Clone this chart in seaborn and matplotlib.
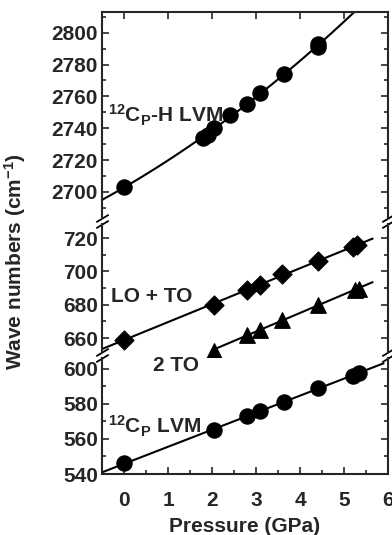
import numpy as np
import matplotlib
matplotlib.use('Agg')
import matplotlib.pyplot as plt
import seaborn as sns
from matplotlib.ticker import MultipleLocator

# 12Cp-H LVM (top panel)
p_ch = [0.0, 1.8, 1.9, 2.05, 2.4, 2.8, 3.1, 3.63, 4.4, 4.42]
w_ch = [2703, 2734, 2736, 2740, 2748, 2755, 2762, 2774, 2791, 2793]
# LO + TO (middle panel)
p_loto = [0.0, 2.04, 2.8, 3.1, 3.6, 4.4, 5.2, 5.3]
w_loto = [659, 680, 689, 692, 698.5, 706, 714.5, 716]
# 2 TO (middle panel)
p_2to = [2.05, 2.8, 3.1, 3.6, 4.4, 5.25, 5.35]
w_2to = [652.5, 662, 665, 671, 680, 689, 689.5]
# 12Cp LVM (bottom panel)
p_c = [0.0, 2.05, 2.8, 3.1, 3.63, 4.4, 5.2, 5.35]
w_c = [546, 565, 573, 576, 581, 589, 596, 597.5]

sns.set_style('ticks')
plt.rcParams['font.family'] = ['Liberation Sans', 'DejaVu Sans']
plt.rcParams['font.weight'] = 'bold'
plt.rcParams['axes.labelweight'] = 'bold'
plt.rcParams['mathtext.default'] = 'regular'
plt.rcParams['font.size'] = 15

fig = plt.figure(figsize=(3.92, 5.35), dpi=100)
W, H = 392, 535
def box(y0, y1):
    return [102 / W, (H - y1) / H, 286 / W, (y1 - y0) / H]

ax_top = fig.add_axes(box(12, 218))
ax_mid = fig.add_axes(box(224, 352))
ax_bot = fig.add_axes(box(358, 474))
axes = [ax_top, ax_mid, ax_bot]

# fit lines
def fit(x, y, deg, x0, x1):
    c = np.polyfit(x, y, deg)
    xs = np.linspace(x0, x1, 100)
    return xs, np.polyval(c, xs)

xs, ys = fit(p_ch, w_ch, 2, -0.5, 6)
sns.lineplot(x=xs, y=ys, ax=ax_top, color='k', lw=1.5)
sns.scatterplot(x=p_ch, y=w_ch, ax=ax_top, marker='o', s=120, color='k',
                edgecolor='k', clip_on=False, zorder=3)

xs, ys = fit(p_loto, w_loto, 1, -0.5, 5.65)
sns.lineplot(x=xs, y=ys, ax=ax_mid, color='k', lw=1.5)
sns.scatterplot(x=p_loto, y=w_loto, ax=ax_mid, marker='D', s=95, color='k',
                edgecolor='k', clip_on=False, zorder=3)
xs, ys = fit(p_2to, w_2to, 1, 2.0, 5.65)
sns.lineplot(x=xs, y=ys, ax=ax_mid, color='k', lw=1.5)
sns.scatterplot(x=p_2to, y=w_2to, ax=ax_mid, marker='^', s=125, color='k',
                edgecolor='k', clip_on=False, zorder=3)

xs, ys = fit(p_c, w_c, 1, -0.5, 5.9)
sns.lineplot(x=xs, y=ys, ax=ax_bot, color='k', lw=1.5)
sns.scatterplot(x=p_c, y=w_c, ax=ax_bot, marker='o', s=120, color='k',
                edgecolor='k', clip_on=False, zorder=3)

ax_top.set_ylim(2683.6, 2813)
ax_mid.set_ylim(651.6, 728.4)
ax_bot.set_ylim(540, 606)
ax_top.set_yticks([2700, 2720, 2740, 2760, 2780, 2800])
ax_mid.set_yticks([660, 680, 700, 720])
ax_bot.set_yticks([540, 560, 580, 600])

for ax in axes:
    ax.set_xlim(-0.5, 6)
    ax.yaxis.set_minor_locator(MultipleLocator(10))
    ax.xaxis.set_major_locator(MultipleLocator(1))
    ax.xaxis.set_minor_locator(MultipleLocator(0.5))
    ax.tick_params(which='both', direction='in', left=True, right=True,
                   top=False, bottom=False, labelbottom=False, width=1.2,
                   labelsize=15)
    ax.tick_params(which='major', length=5, pad=3)
    ax.tick_params(which='minor', length=3)
    for s in ax.spines.values():
        s.set_linewidth(1.5)
    ax.set_xlabel('')
    ax.set_ylabel('')

ax_top.spines['bottom'].set_visible(False)
ax_mid.spines['top'].set_visible(False)
ax_mid.spines['bottom'].set_visible(False)
ax_bot.spines['top'].set_visible(False)
ax_top.tick_params(which='major', top=True)
ax_bot.tick_params(which='both', bottom=True, labelbottom=True)
ax_bot.tick_params(axis='x', which='major', pad=12)

# break marks
d = dict(marker=[(-1, -0.6), (1, 0.6)], markersize=9, linestyle='none',
         color='k', mec='k', mew=1.3, clip_on=False)
for ax, ypos in [(ax_top, 0), (ax_mid, 1), (ax_mid, 0), (ax_bot, 1)]:
    ax.plot([0, 1], [ypos, ypos], transform=ax.transAxes, **d)

ax_top.text(-0.36, 2748, '$^{12}$C$_P$-H LVM', va='center', ha='left', fontsize=15)
ax_mid.text(-0.3, 685, 'LO + TO', va='center', ha='left', fontsize=15)
ax_bot.text(0.66, 602, '2 TO', va='center', ha='left', fontsize=15)
ax_bot.text(-0.36, 567, '$^{12}$C$_P$ LVM', va='center', ha='left', fontsize=15)

ax_bot.set_xlabel('Pressure (GPa)', fontsize=15, fontweight='bold', labelpad=5)
fig.text(15 / W, 1 - 262 / H, 'Wave numbers (cm$^{-1}$)', rotation=90,
         ha='center', va='center', fontsize=15, fontweight='bold')

fig.savefig('out.png', dpi=100)
